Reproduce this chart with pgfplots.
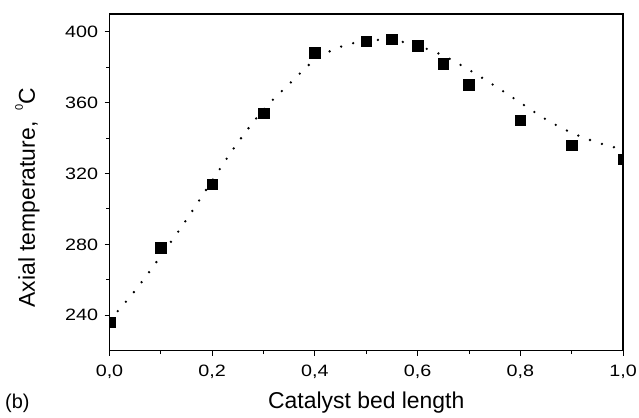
\documentclass[border=0pt]{standalone}
\usepackage{fontspec}
\setmainfont{Liberation Sans}
\newfontfamily\tickfont{Liberation Sans}[FakeStretch=1.2]
\usepackage{pgfplots}
\pgfplotsset{compat=1.18}
\begin{document}
\begin{tikzpicture}[x=1bp,y=1bp]
\useasboundingbox (0,0) rectangle (639,417);
\begin{axis}[
  at={(109.5bp,66.3bp)}, anchor=south west,
  scale only axis, width=513.5bp, height=336.7bp,
  xmin=0, xmax=1, ymin=220, ymax=410,
  xtick={0,0.2,0.4,0.6,0.8,1},
  minor xtick={0.1,0.3,0.5,0.7,0.9},
  ytick={240,280,320,360,400},
  minor ytick={260,300,340,380},
  tick pos=left, tick align=outside,
  major tick length=5bp, minor tick length=3.5bp,
  every tick/.style={black, line width=0.9bp},
  axis line style={line width=1.1bp, black},
  clip marker paths=true,
  /pgf/number format/assume math mode=true,
  ticklabel style={font=\tickfont\fontsize{16.5}{18}\selectfont},
  x tick label style={yshift=-6bp, /pgf/number format/.cd, use comma, fixed, fixed zerofill, precision=1},
  y tick label style={xshift=-3bp},
  xlabel={Catalyst bed length},
  xlabel style={font=\fontsize{23}{25}\selectfont, at={(axis description cs:0.5,0)}, anchor=base, yshift=-57.3bp},
  ylabel={Axial temperature,\hspace{5bp} \raisebox{12bp}{\fontsize{11}{11}\selectfont 0}C},
  ylabel style={font=\fontsize{23}{25}\selectfont, at={(axis description cs:-0.1451,0.455)}, anchor=base},
]
\addplot[black, line width=2.6bp, line cap=round, dash pattern=on 0bp off 12.5bp, smooth, tension=0.6] coordinates {
(0,237) (0.05,254) (0.1,273.5) (0.15,294) (0.2,316) (0.25,337.5) (0.3,356)
(0.35,370.5) (0.4,384) (0.45,391.5) (0.5,394.8) (0.55,395.2) (0.6,392)
(0.65,386.5) (0.7,378.5) (0.75,369.5) (0.8,360) (0.85,350.5) (0.9,343)
(0.95,337.5) (1.0,333.5)
};
\addplot[only marks, mark=square*, mark size=5.3bp, black] coordinates {
(0,236) (0.1,278) (0.2,314) (0.3,354) (0.4,388) (0.5,394.6) (0.55,395.8)
(0.6,392) (0.65,382) (0.7,370) (0.8,350) (0.9,336) (1.0,328)
};
\end{axis}
\node[anchor=base west, font=\fontsize{20}{22}\selectfont, inner sep=0pt] at (5,9) {(b)};
\end{tikzpicture}
\end{document}
